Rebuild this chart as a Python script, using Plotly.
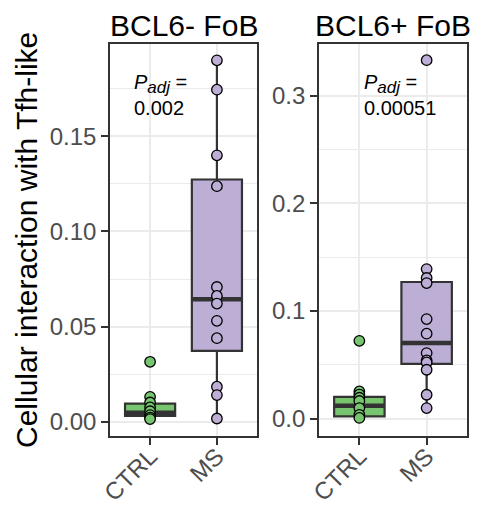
import plotly.graph_objects as go
import numpy as np

groups = ["CTRL", "MS"]
panels = ["BCL6- FoB", "BCL6+ FoB"]
pvals = ["0.002", "0.00051"]

# point values
neg_ctrl = [0.0315, 0.0131, 0.0101, 0.0075, 0.0055, 0.0035, 0.0022, 0.0014]
neg_ms = [0.1899, 0.1745, 0.1400, 0.1238, 0.0708, 0.0661, 0.0621, 0.0530,
          0.0439, 0.0184, 0.0140, 0.0017]
pos_ctrl = [0.0724, 0.0254, 0.0225, 0.0195, 0.0165, 0.0099, 0.0037, 0.0008]
pos_ms = [0.3330, 0.1390, 0.1307, 0.1260, 0.0926, 0.0790, 0.0610, 0.0542,
          0.0523, 0.0455, 0.0223, 0.0099]

# box statistics : [CTRL, MS]
neg_q1 = [0.0031, 0.0372]
neg_med = [0.0047, 0.0643]
neg_q3 = [0.0095, 0.1273]
neg_lo = [0.0014, 0.0017]
neg_hi = [0.0131, 0.1899]
pos_q1 = [0.0022, 0.0510]
pos_med = [0.0121, 0.0703]
pos_q3 = [0.0204, 0.1270]
pos_lo = [0.0008, 0.0099]
pos_hi = [0.0254, 0.1390]

y_ranges = [[-0.0075, 0.1985], [-0.016, 0.348]]
y_dticks = [0.05, 0.1]
y_formats = [".2f", ".1f"]

fills = ["#77C66F", "#BDAED6"]
edge = "#333333"
W, H = 481, 511
FONT = "Liberation Sans, Arial, Helvetica, sans-serif"

panel_px = [(110, 257), (319, 467)]
top_px, bot_px = 44, 436
ptext_px = [(132, 69), (362, 69)]

points = [[neg_ctrl, neg_ms], [pos_ctrl, pos_ms]]
stats = [
    (neg_q1, neg_med, neg_q3, neg_lo, neg_hi),
    (pos_q1, pos_med, pos_q3, pos_lo, pos_hi),
]

fig = go.Figure()
BW = 0.75
for p in range(2):
    xa = "x" if p == 0 else "x2"
    ya = "y" if p == 0 else "y2"
    q1, med, q3, lo, hi = stats[p]
    for g in range(2):
        fig.add_trace(go.Box(
            x=[g], q1=[q1[g]], median=[med[g]], q3=[q3[g]],
            lowerfence=[lo[g]], upperfence=[hi[g]],
            width=BW, whiskerwidth=0, boxpoints=False,
            fillcolor=fills[g], line=dict(color=edge, width=2.2),
            xaxis=xa, yaxis=ya, showlegend=False, hoverinfo="skip"))
    for g in range(2):
        fig.add_trace(go.Scatter(
            x=[g - BW / 2, g + BW / 2], y=[med[g], med[g]], mode="lines",
            line=dict(color=edge, width=4.5), xaxis=xa, yaxis=ya,
            showlegend=False, hoverinfo="skip"))
    for g in range(2):
        vals = np.array(points[p][g])
        fig.add_trace(go.Scatter(
            x=np.full(len(vals), g), y=vals, mode="markers",
            marker=dict(size=10.5, color=fills[g],
                        line=dict(color="black", width=1.3)),
            xaxis=xa, yaxis=ya, showlegend=False, hoverinfo="skip"))

axis_common = dict(showline=True, mirror=True, linecolor=edge, linewidth=1.6,
                   ticks="outside", ticklen=7, tickwidth=1.6, tickcolor=edge,
                   tickfont=dict(family=FONT, size=24, color="#4D4D4D"),
                   zeroline=False, showgrid=True, gridcolor="#EBEBEB",
                   gridwidth=2, automargin=False)

layout = dict(width=W, height=H, margin=dict(l=0, r=0, t=0, b=0, pad=0,
                                             autoexpand=False),
              paper_bgcolor="white", plot_bgcolor="white",
              boxmode="overlay", showlegend=False)
ydom = [(H - bot_px) / H, (H - top_px) / H]
annotations = []
for p in range(2):
    xl, xr = panel_px[p]
    xkey = "xaxis" if p == 0 else "xaxis2"
    ykey = "yaxis" if p == 0 else "yaxis2"
    layout[xkey] = dict(axis_common, domain=[xl / W, xr / W], range=[-0.6, 1.6],
                        tickmode="array", tickvals=[0, 1], ticktext=groups,
                        tickangle=-45, ticklabelstandoff=-12,
                        anchor="y" if p == 0 else "y2")
    layout[ykey] = dict(axis_common, domain=ydom, range=y_ranges[p],
                        dtick=y_dticks[p], tick0=0, tickformat=y_formats[p],
                        anchor="x" if p == 0 else "x2",
                        minor=dict(dtick=y_dticks[p] / 2, tick0=0, showgrid=True,
                                   gridcolor="#EBEBEB", gridwidth=1.1,
                                   ticks=""))
    annotations.append(dict(
        text=panels[p], xref="paper", yref="paper", x=(xl + xr) / 2 / W,
        y=(H - 25) / H, xanchor="center", yanchor="middle", showarrow=False,
        font=dict(family=FONT, size=30, color="black")))
    tx, ty = ptext_px[p]
    annotations.append(dict(
        text="<i>P</i><sub><i><span style='font-size:17px'>adj</span></i></sub> =<br>"
             + pvals[p], xref="paper",
        yref="paper", x=tx / W, y=(H - ty) / H, xanchor="left", yanchor="top",
        align="left", showarrow=False,
        font=dict(family=FONT, size=20, color="black")))
annotations.append(dict(
    text="Cellular interaction with Tfh-like", xref="paper", yref="paper",
    x=26 / W, y=(H - (top_px + bot_px) / 2) / H, xanchor="center",
    yanchor="middle", textangle=-90, showarrow=False,
    font=dict(family=FONT, size=30, color="black")))
layout["annotations"] = annotations
fig.update_layout(**layout)
fig.write_html("out.html")
